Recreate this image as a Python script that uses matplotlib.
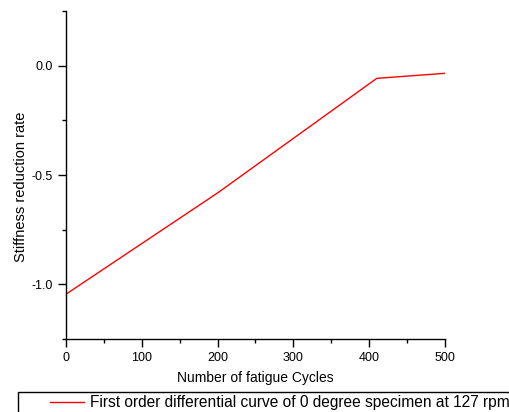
import numpy as np
import matplotlib
matplotlib.use('Agg')
import matplotlib.pyplot as plt
from matplotlib.patches import Rectangle
from matplotlib.ticker import MultipleLocator

plt.rcParams['font.family'] = ['Liberation Sans', 'DejaVu Sans']

cycles = [0, 200, 410, 500]
stiffness_rate = [-1.045, -0.582, -0.058, -0.035]
series_name = 'First order differential curve of 0 degree specimen at 127 rpm'

fig = plt.figure(figsize=(5.1, 4.12), dpi=100)
ax = fig.add_axes([66/510, 1 - 339/412, (445-66)/510, (339-11)/412])

ax.plot(cycles, stiffness_rate, color='red', lw=1, label=series_name)

ax.set_xlim(0, 500)
ax.set_ylim(-1.25, 0.25)
ax.xaxis.set_major_locator(MultipleLocator(100))
ax.xaxis.set_minor_locator(MultipleLocator(50))
ax.yaxis.set_major_locator(MultipleLocator(0.5))
ax.yaxis.set_minor_locator(MultipleLocator(0.25))
ax.yaxis.set_major_formatter(plt.FuncFormatter(lambda v, p: '%.1f' % v))

ax.spines['top'].set_visible(False)
ax.spines['right'].set_visible(False)
for s in ['left', 'bottom']:
    ax.spines[s].set_linewidth(1)
ax.tick_params(which='major', direction='out', length=6, width=1, labelsize=9, colors='black')
ax.tick_params(which='minor', direction='out', length=3, width=1)

ax.set_xlabel('Number of fatigue Cycles', fontsize=10, labelpad=5)
ax.set_ylabel('Stiffness reduction rate', fontsize=10.5)
# label sits a bit below the axes middle in the reference
ax.yaxis.set_label_coords((28 - 66) / 379, 1 - (187 - 11) / 328)

# legend box hanging off the bottom of the figure
fig.patches.append(Rectangle((18/510, -0.2), 1.0, 0.2 + 20/412, transform=fig.transFigure,
                             fill=False, edgecolor='black', lw=1))
fig.legend(loc='center left', bbox_to_anchor=(44/510, 1 - 403/412), frameon=False,
           fontsize=11.2, handlelength=2.2, handletextpad=0.35, borderaxespad=0)

fig.savefig('out.png', dpi=100)
